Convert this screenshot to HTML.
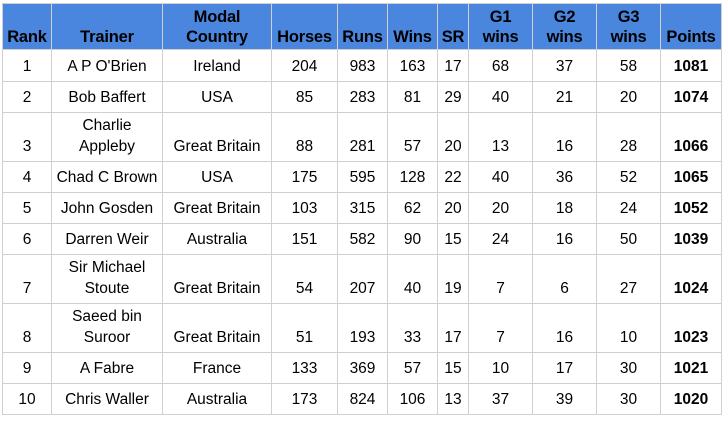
<!DOCTYPE html>
<html><head><style>
body{margin:0;background:#fff;width:727px;height:423px;overflow:hidden}
table{position:absolute;left:2px;top:3px;border-collapse:collapse;table-layout:fixed;font-family:"Liberation Sans",Arial,sans-serif;font-size:15.5px;color:#000}
td,th{border:1px solid #d0d0d0;text-align:center;padding:0;line-height:21px;white-space:nowrap}
th{background:#4a86de;font-weight:bold;font-size:16.5px;vertical-align:bottom;padding-bottom:2px;line-height:20px;letter-spacing:-0.2px}
td{vertical-align:bottom;padding-bottom:4px}
td.b{font-weight:bold}
</style></head><body>
<table>
<colgroup><col style="width:49px"><col style="width:111px"><col style="width:109px"><col style="width:66px"><col style="width:50px"><col style="width:50px"><col style="width:31px"><col style="width:64px"><col style="width:64px"><col style="width:64px"><col style="width:61px"></colgroup>
<tr style="height:46px"><th>Rank</th><th>Trainer</th><th>Modal<br>Country</th><th>Horses</th><th>Runs</th><th>Wins</th><th>SR</th><th>G1<br>wins</th><th>G2<br>wins</th><th>G3<br>wins</th><th>Points</th></tr>
<tr style="height:32px"><td>1</td><td>A P O'Brien</td><td>Ireland</td><td>204</td><td>983</td><td>163</td><td>17</td><td>68</td><td>37</td><td>58</td><td class="b">1081</td></tr>
<tr style="height:31px"><td>2</td><td>Bob Baffert</td><td>USA</td><td>85</td><td>283</td><td>81</td><td>29</td><td>40</td><td>21</td><td>20</td><td class="b">1074</td></tr>
<tr style="height:49px"><td>3</td><td>Charlie<br>Appleby</td><td>Great Britain</td><td>88</td><td>281</td><td>57</td><td>20</td><td>13</td><td>16</td><td>28</td><td class="b">1066</td></tr>
<tr style="height:31px"><td>4</td><td>Chad C Brown</td><td>USA</td><td>175</td><td>595</td><td>128</td><td>22</td><td>40</td><td>36</td><td>52</td><td class="b">1065</td></tr>
<tr style="height:31px"><td>5</td><td>John Gosden</td><td>Great Britain</td><td>103</td><td>315</td><td>62</td><td>20</td><td>20</td><td>18</td><td>24</td><td class="b">1052</td></tr>
<tr style="height:31px"><td>6</td><td>Darren Weir</td><td>Australia</td><td>151</td><td>582</td><td>90</td><td>15</td><td>24</td><td>16</td><td>50</td><td class="b">1039</td></tr>
<tr style="height:49px"><td>7</td><td>Sir Michael<br>Stoute</td><td>Great Britain</td><td>54</td><td>207</td><td>40</td><td>19</td><td>7</td><td>6</td><td>27</td><td class="b">1024</td></tr>
<tr style="height:49px"><td>8</td><td>Saeed bin<br>Suroor</td><td>Great Britain</td><td>51</td><td>193</td><td>33</td><td>17</td><td>7</td><td>16</td><td>10</td><td class="b">1023</td></tr>
<tr style="height:31px"><td>9</td><td>A Fabre</td><td>France</td><td>133</td><td>369</td><td>57</td><td>15</td><td>10</td><td>17</td><td>30</td><td class="b">1021</td></tr>
<tr style="height:31px"><td>10</td><td>Chris Waller</td><td>Australia</td><td>173</td><td>824</td><td>106</td><td>13</td><td>37</td><td>39</td><td>30</td><td class="b">1020</td></tr>
</table>
</body></html>
